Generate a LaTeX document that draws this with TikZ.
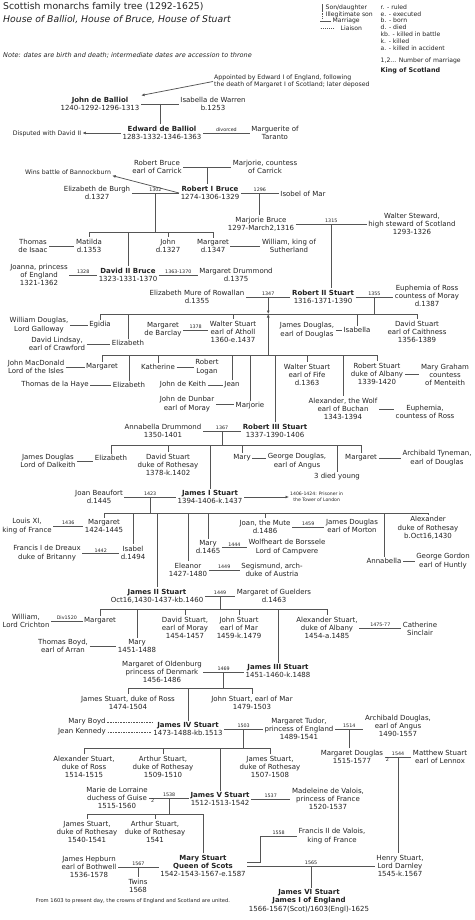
\documentclass[tikz,border=0pt]{standalone}
\usepackage{fontspec}
\setmainfont{DejaVu Sans}
\usetikzlibrary{arrows.meta,calc}
\definecolor{treeink}{HTML}{222222}
\definecolor{treeline}{HTML}{555555}
\tikzset{
  person/.style={font=\fontsize{7}{8.3}\selectfont, align=center, inner sep=1.5pt, text=treeink},
  aside/.style={font=\fontsize{6.2}{7}\selectfont, align=left, inner sep=1pt, text=treeink},
  legend/.style={font=\fontsize{6.1}{6.8}\selectfont, anchor=west, inner sep=0.5pt, text=treeink},
  tie/.style={draw=treeline, line width=0.75pt},
  liaison/.style={tie, dash pattern=on 1.6pt off 1pt},
  yr/.style={midway, above, font=\fontsize{4.8}{5}\selectfont, inner sep=0.6pt, text=treeink},
  pointer/.style={tie, -{Latex[length=3.5pt,width=3pt]}},
}
\begin{document}
\begin{tikzpicture}[x=1pt, y=-1pt]
\useasboundingbox (0,0) rectangle (474,920);

\node[anchor=west, inner sep=0, font=\fontsize{9.3}{10}\selectfont, text=treeink] (title) at (3,7) {Scottish monarchs family tree (1292-1625)};
\node[anchor=west, inner sep=0, font=\fontsize{9.3}{10}\selectfont\itshape, text=treeink] (houses) at (3,20) {House of Balliol, House of Bruce, House of Stuart};
\node[anchor=west, inner sep=0, font=\fontsize{6.5}{7}\selectfont\itshape, text=treeink] (datenote) at (3,55) {Note: dates are birth and death; intermediate dates are accession to throne};

\node[legend] (lson) at (325,8) {Son/daughter};
\node[legend] (lill) at (325,14.5) {Illegitimate son};
\node[legend] (lmar) at (332,21) {Marriage};
\node[legend] (llia) at (340,28) {Liaison};
\draw[tie, line width=0.5pt] ([xshift=-2.5pt]lson.north west) -- ([xshift=-2.5pt]lson.south west);
\draw[tie, line width=0.5pt, dash pattern=on 1pt off 0.7pt] ([xshift=-2.5pt]lill.north west) -- ([xshift=-2.5pt]lill.south west);
\draw[tie, line width=0.5pt] ([xshift=-1.5pt]lmar.west) -- ++(-11,0);
\draw[tie, line width=0.5pt, dash pattern=on 1.2pt off 0.8pt] ([xshift=-6pt]llia.west) -- ++(-14,0);
\foreach \t [count=\i] in {r. - ruled, e. - executed, b. - born, d. - died, kb. - killed in battle, k. - killed, a. - killed in accident}
  \node[legend] (key\i) at (380,0.2+6.8*\i) {\t};
\node[legend] (keynum) at (380,61) {1,2... Number of marriage};
\node[legend, font=\fontsize{6.4}{7}\selectfont\bfseries] (keyking) at (380,71) {King of Scotland};

\node[aside, anchor=west] (appointed) at (213,81.5) {Appointed by Edward I of England, following\\the death of Margaret I of Scotland; later deposed};
\node[person] (johnb) at (100,104) {\textbf{John de Balliol}\\1240-1292-1296-1313};
\node[person] (isabellaw) at (213,104) {Isabella de Warren\\b.1253};
\node[person] (edwardb) at (162,133) {\textbf{Edward de Balliol}\\1283-1332-1346-1363};
\node[aside] (disputed) at (47,134) {Disputed with David II};
\node[person] (marguerite) at (275,133) {Marguerite of\\Taranto};
\draw[pointer] (appointed.west) -- (johnb.north east);
\draw[tie] (johnb.east) -- (johnb.east -| isabellaw.west) coordinate[midway] (mjb);
\draw[tie] (mjb) -- (mjb |- edwardb.north);
\draw[tie] (edwardb.east) -- (edwardb.east -| marguerite.west) node[yr]{divorced};
\draw[pointer] (edwardb.west) -- (edwardb.west -| disputed.east);

\node[person] (rbruce) at (157,167) {Robert Bruce\\earl of Carrick};
\node[person] (marjoriec) at (265,167) {Marjorie, countess\\of Carrick};
\node[aside] (bannock) at (68,172) {Wins battle of Bannockburn};
\node[person] (robert1) at (210,193) {\textbf{Robert I Bruce}\\1274-1306-1329};
\node[person] (elizabethb) at (97,193) {Elizabeth de Burgh\\d.1327};
\node[person] (isobel) at (303,194) {Isobel of Mar};
\draw[tie] (rbruce.east) -- (rbruce.east -| marjoriec.west) coordinate[midway] (mrb);
\draw[tie] (mrb) -- (mrb |- robert1.north);
\draw[pointer] (robert1.west) -- (bannock.south east);
\draw[tie] (elizabethb.east) -- (elizabethb.east -| robert1.west) node[yr]{1302} coordinate[midway] (m1302);
\draw[tie] (robert1.east) -- (robert1.east -| isobel.west) node[yr]{1296} coordinate[midway] (m1296);

\node[person] (marjorieb) at (261,224) {Marjorie Bruce\\1297-March2,1316};
\node[person] (walters) at (412,224) {Walter Steward,\\high steward of Scotland\\1293-1326};
\draw[tie] (m1296) -- (m1296 |- marjorieb.north);
\draw[tie] (marjorieb.east) -- (marjorieb.east -| walters.west) node[yr]{1315} coordinate[midway] (m1315);

\coordinate (bar1) at (0,232);
\node[person] (thomasi) at (33,246) {Thomas\\de Isaac};
\node[person] (matilda) at (89,246) {Matilda\\d.1353};
\node[person] (johnbr) at (168,246) {John\\d.1327};
\node[person] (margaretb) at (213,246) {Margaret\\d.1347};
\node[person] (williams) at (289,246) {William, king of\\Sutherland};
\node[person] (joanna) at (39,275) {Joanna, princess\\of England\\1321-1362};
\node[person] (david2) at (128,275) {\textbf{David II Bruce}\\1323-1331-1370};
\node[person] (margaretd) at (236,275) {Margaret Drummond\\d.1375};
\draw[tie] (m1302) -- (m1302 |- bar1);
\draw[tie] (matilda.north |- bar1) -- (margaretb.north |- bar1);
\foreach \k in {matilda,johnbr,margaretb,david2} \draw[tie] (\k.north |- bar1) -- (\k.north);
\draw[tie] (thomasi.east) -- (thomasi.east -| matilda.west);
\draw[tie] (margaretb.east) -- (margaretb.east -| williams.west);
\draw[tie] (joanna.east) -- (joanna.east -| david2.west) node[yr]{1328};
\draw[tie] (david2.east) -- (david2.east -| margaretd.west) node[yr]{1363-1370};

\node[person] (robert2) at (323,297) {\textbf{Robert II Stuart}\\1316-1371-1390};
\node[person] (elizmure) at (197,297) {Elizabeth Mure of Rowallan\\d.1355};
\node[person] (euphemiar) at (427,296) {Euphemia of Ross\\countess of Moray\\d.1387};
\draw[tie] (m1315) -- (m1315 |- robert2.north);
\draw[tie] (elizmure.east) -- (elizmure.east -| robert2.west) node[yr]{1347} coordinate[midway] (m1347);
\draw[tie] (robert2.east) -- (robert2.east -| euphemiar.west) node[yr]{1355} coordinate[midway] (m1355);

\coordinate (bar2) at (0,314);
\node[person] (williamd) at (39,325) {William Douglas,\\Lord Galloway};
\node[person] (egidia) at (100,325) {Egidia};
\node[person] (davidl) at (57,344) {David Lindsay,\\earl of Crawford};
\node[person] (elizabethc) at (128,343) {Elizabeth};
\node[person] (margaretbar) at (163,330) {Margaret\\de Barclay};
\node[person] (walterat) at (233,332) {Walter Stuart\\earl of Atholl\\1360-e.1437};
\node[person] (jamesdd) at (307,330) {James Douglas,\\earl of Douglas};
\node[person] (isabellad) at (357,330) {Isabella};
\node[person] (davidc) at (417,332) {David Stuart\\earl of Caithness\\1356-1389};
\draw[tie] (m1355) -- (m1355 |- bar2);
\draw[tie] (egidia.north |- bar2) -- (davidc.north |- bar2);
\foreach \k in {egidia,elizabethc,walterat,isabellad,davidc} \draw[tie] (\k.north |- bar2) -- (\k.north);
\draw[tie] (williamd.east) -- (williamd.east -| egidia.west);
\draw[tie] (davidl.east) -- (davidl.east -| elizabethc.west);
\draw[tie] (margaretbar.east) -- (margaretbar.east -| walterat.west) node[yr]{1378};
\draw[tie] (jamesdd.east) -- (jamesdd.east -| isabellad.west);

\coordinate (bar3) at (0,355);
\node[person] (johnmac) at (36,367) {John MacDonald\\Lord of the Isles};
\node[person] (margaretm) at (102,367) {Margaret};
\node[person] (katherine) at (158,367) {Katherine};
\node[person] (robertl) at (207,367) {Robert\\Logan};
\node[person] (walterf) at (307,375) {Walter Stuart\\earl of Fife\\d.1363};
\node[person] (roberta) at (377,374) {Robert Stuart\\duke of Albany\\1339-1420};
\node[person] (marygr) at (445,375) {Mary Graham\\countess\\of Menteith};
\node[person] (thomash) at (55,385) {Thomas de la Haye};
\node[person] (elizabethh) at (129,385) {Elizabeth};
\node[person] (johnk) at (183,385) {John de Keith};
\node[person] (jean) at (232,385) {Jean};
\node[person] (johnd) at (187,404) {John de Dunbar\\earl of Moray};
\node[person] (marjoried) at (250,406) {Marjorie};
\node[person] (alexw) at (343,409) {Alexander, the Wolf\\earl of Buchan\\1343-1394};
\node[person] (euphemiac) at (425,412) {Euphemia,\\countess of Ross};
\node[person] (annabellad) at (163,431) {Annabella Drummond\\1350-1401};
\node[person] (robert3) at (275,431) {\textbf{Robert III Stuart}\\1337-1390-1406};
\draw[pointer] (m1347) -- (m1347 |- bar2);
\draw[pointer] (m1347 |- bar3) -- (m1347 |- bar2);
\draw[tie] (margaretm.north |- bar3) -- (roberta.north |- bar3);
\foreach \k in {margaretm,elizabethh,katherine,jean,marjoried,robert3,walterf,alexw,roberta} \draw[tie] (\k.north |- bar3) -- (\k.north);
\draw[tie] (johnmac.east) -- (johnmac.east -| margaretm.west);
\draw[tie] (katherine.east) -- (katherine.east -| robertl.west);
\draw[tie] (thomash.east) -- (thomash.east -| elizabethh.west);
\draw[tie] (johnk.east) -- (johnk.east -| jean.west);
\draw[tie] (johnd.east) -- (johnd.east -| marjoried.west);
\draw[tie] (roberta.east) -- (roberta.east -| marygr.west);
\draw[tie] (alexw.east) -- (alexw.east -| euphemiac.west);
\draw[tie] (annabellad.east) -- (annabellad.east -| robert3.west) node[yr]{1367} coordinate[midway] (m1367);

\coordinate (bar4) at (0,445);
\node[person] (jamesdal) at (48,461) {James Douglas\\Lord of Dalkeith};
\node[person] (elizabethd) at (111,458) {Elizabeth};
\node[person] (davidr) at (168,465) {David Stuart\\duke of Rothesay\\1378-k.1402};
\node[person] (maryan) at (242,458) {Mary};
\node[person] (georged) at (297,461) {George Douglas,\\earl of Angus};
\node[person] (diedyoung) at (337,477) {3 died young};
\node[person] (margaretar) at (361,458) {Margaret};
\node[person] (archt) at (437,458) {Archibald Tyneman,\\earl of Douglas};
\node[person] (joanb) at (99,497) {Joan Beaufort\\d.1445};
\node[person] (james1) at (210,497) {\textbf{James I Stuart}\\1394-1406-k.1437};
\node[aside, align=center, anchor=west, font=\fontsize{4.6}{5.6}\selectfont] (prisoner) at (289,497) {1406-1424: Prisoner in\\the Tower of London};
\draw[tie] (m1367) -- (m1367 |- bar4);
\draw[tie] (elizabethd.north |- bar4) -- (margaretar.north |- bar4);
\foreach \k in {elizabethd,davidr,james1,maryan,diedyoung,margaretar} \draw[tie] (\k.north |- bar4) -- (\k.north);
\draw[tie] (jamesdal.east) -- (jamesdal.east -| elizabethd.west);
\draw[tie] (maryan.east) -- (maryan.east -| georged.west);
\draw[tie] (margaretar.east) -- (margaretar.east -| archt.west);
\draw[tie] (joanb.east) -- (joanb.east -| james1.west) node[yr]{1423} coordinate[midway] (m1423);
\draw[pointer] (james1.east) -- (prisoner.west);

\coordinate (bar5) at (0,513);
\node[person] (louis) at (27,526) {Louis XI,\\king of France};
\node[person] (margaretf) at (104,526) {Margaret\\1424-1445};
\node[person] (francisd) at (47,553) {Francis I de Dreaux\\duke of Britanny};
\node[person] (isabelb) at (133,553) {Isabel\\d.1494};
\node[person] (marym) at (208,547) {Mary\\d.1465};
\node[person] (wolf) at (287,547) {Wolfheart de Borssele\\Lord of Campvere};
\node[person] (eleanor) at (188,570) {Eleanor\\1427-1480};
\node[person] (segis) at (272,570) {Segismund, arch-\\duke of Austria};
\node[person] (joanm) at (265,527) {Joan, the Mute\\d.1486};
\node[person] (jamesm) at (352,526) {James Douglas\\earl of Morton};
\node[person] (alexr) at (428,528) {Alexander\\duke of Rothesay\\b.Oct16,1430};
\node[person] (annabellag) at (384,561) {Annabella};
\node[person] (georgeg) at (443,561) {George Gordon\\earl of Huntly};
\node[person] (james2) at (157,596) {\textbf{James II Stuart}\\Oct16,1430-1437-kb.1460};
\node[person] (margaretg) at (274,596) {Margaret of Guelders\\d.1463};
\draw[tie] (m1423) -- (m1423 |- bar5);
\draw[tie] (margaretf.north |- bar5) -- (alexr.north |- bar5);
\foreach \k in {margaretf,isabelb,james2,eleanor,marym,joanm,annabellag,alexr} \draw[tie] (\k.north |- bar5) -- (\k.north);
\draw[tie] (louis.east) -- (louis.east -| margaretf.west) node[yr]{1436};
\draw[tie] (francisd.east) -- (francisd.east -| isabelb.west) node[yr]{1442};
\draw[tie] (marym.east) -- (marym.east -| wolf.west) node[yr]{1444};
\draw[tie] (eleanor.east) -- (eleanor.east -| segis.west) node[yr]{1449};
\draw[tie] (joanm.east) -- (joanm.east -| jamesm.west) node[yr]{1459};
\draw[tie] (annabellag.east) -- (annabellag.east -| georgeg.west);
\draw[tie] (james2.east) -- (james2.east -| margaretg.west) node[yr]{1449} coordinate[midway] (m1449);

\coordinate (bar6) at (0,609);
\node[person] (williamc) at (26,621) {William,\\Lord Crichton};
\node[person] (margaretc) at (100,621) {Margaret};
\node[person] (thomasb) at (63,646) {Thomas Boyd,\\earl of Arran};
\node[person] (marybo) at (137,646) {Mary\\1451-1488};
\node[person] (davidm) at (185,628) {David Stuart,\\earl of Moray\\1454-1457};
\node[person] (johnm) at (239,628) {John Stuart\\earl of Mar\\1459-k.1479};
\node[person] (alexa) at (327,628) {Alexander Stuart,\\duke of Albany\\1454-a.1485};
\node[person] (catherine) at (420,629) {Catherine\\Sinclair};
\node[person] (margareto) at (162,672) {Margaret of Oldenburg\\princess of Denmark\\1456-1486};
\node[person] (james3) at (278,671) {\textbf{James III Stuart}\\1451-1460-k.1488};
\draw[tie] (m1449) -- (m1449 |- bar6);
\draw[tie] (margaretc.north |- bar6) -- (alexa.north |- bar6);
\foreach \k in {margaretc,marybo,davidm,johnm,james3,alexa} \draw[tie] (\k.north |- bar6) -- (\k.north);
\draw[tie] (williamc.east) -- (williamc.east -| margaretc.west) node[yr]{Div1520};
\draw[tie] (thomasb.east) -- (thomasb.east -| marybo.west);
\draw[tie] (alexa.east) -- (alexa.east -| catherine.west) node[yr]{1475-77};
\draw[tie] (margareto.east) -- (margareto.east -| james3.west) node[yr]{1469} coordinate[midway] (m1469);

\coordinate (bar7) at (0,688);
\node[person] (jamesr) at (128,703) {James Stuart, duke of Ross\\1474-1504};
\node[person] (johnmar) at (252,703) {John Stuart, earl of Mar\\1479-1503};
\node[person] (james4) at (188,729) {\textbf{James IV Stuart}\\1473-1488-kb.1513};
\node[person] (maryb) at (87,722) {Mary Boyd};
\node[person] (jeank) at (82,732) {Jean Kennedy};
\node[person] (margarettu) at (299,729) {Margaret Tudor,\\princess of England\\1489-1541};
\node[person] (archd) at (398,726) {Archibald Douglas,\\earl of Angus\\1490-1557};
\node[person] (margaretdo) at (352,757) {Margaret Douglas\\1515-1577};
\node[person] (matthew) at (440,757) {Matthew Stuart\\earl of Lennox};
\draw[tie] (m1469) -- (m1469 |- bar7);
\draw[tie] (jamesr.north |- bar7) -- (johnmar.north |- bar7);
\foreach \k in {jamesr,james4,johnmar} \draw[tie] (\k.north |- bar7) -- (\k.north);
\draw[liaison] (maryb.east) -- (maryb.east -| james4.west);
\draw[liaison] (jeank.east) -- (jeank.east -| james4.west);
\draw[tie] (james4.east) -- (james4.east -| margarettu.west) node[yr]{1503} coordinate[midway] (m1503);
\draw[tie] (margarettu.east) -- (margarettu.east -| archd.west) node[yr]{1514} coordinate[midway] (m1514);
\draw[tie] (m1514) -- (m1514 |- margaretdo.north);
\draw[tie] (margaretdo.east) -- (margaretdo.east -| matthew.west) node[yr]{1544} node[yr, pos=.1, below]{2} coordinate[midway] (m1544);

\coordinate (bar8) at (0,748);
\node[person] (alexs) at (84,767) {Alexander Stuart,\\duke of Ross\\1514-1515};
\node[person] (arthurs) at (163,767) {Arthur Stuart,\\duke of Rothesay\\1509-1510};
\node[person] (jamess) at (270,767) {James Stuart,\\duke of Rothesay\\1507-1508};
\node[person] (marie) at (117,798) {Marie de Lorraine\\duchess of Guise\\1515-1560};
\node[person] (james5) at (220,799) {\textbf{James V Stuart}\\1512-1513-1542};
\node[person] (madeleine) at (328,799) {Madeleine de Valois,\\princess of France\\1520-1537};
\draw[tie] (m1503) -- (m1503 |- bar8);
\draw[tie] (alexs.north |- bar8) -- (jamess.north |- bar8);
\foreach \k in {alexs,arthurs,james5,jamess} \draw[tie] (\k.north |- bar8) -- (\k.north);
\draw[tie] (marie.east) -- (marie.east -| james5.west) node[yr]{1538} node[yr, pos=.08, below]{2} coordinate[midway] (m1538);
\draw[tie] (james5.east) -- (james5.east -| madeleine.west) node[yr]{1537};

\coordinate (bar9) at (0,814);
\node[person] (jamesro) at (87,832) {James Stuart,\\duke of Rothesay\\1540-1541};
\node[person] (arthurro) at (155,832) {Arthur Stuart,\\duke of Rothesay\\1541};
\node[person] (francis2) at (332,836) {Francis II de Valois,\\king of France};
\node[person] (marys) at (203,866) {\textbf{Mary Stuart}\\\textbf{Queen of Scots}\\1542-1543-1567-e.1587};
\node[person] (jamesh) at (89,867) {James Hepburn\\earl of Bothwell\\1536-1578};
\node[person] (henry) at (400,866) {Henry Stuart,\\Lord Darnley\\1545-k.1567};
\node[person] (twins) at (138,886) {Twins\\1568};
\node[aside, font=\fontsize{5.2}{6}\selectfont] (united) at (133,901) {From 1603 to present day, the crowns of England and Scotland are united.};
\node[person] (james6) at (309,901) {\textbf{James VI Stuart}\\\textbf{James I of England}\\1566-1567(Scot)/1603(Engl)-1625};
\draw[tie] (m1538) -- (m1538 |- bar9);
\draw[tie] (jamesro.north |- bar9) -- (marys.north |- bar9);
\foreach \k in {jamesro,arthurro,marys} \draw[tie] (\k.north |- bar9) -- (\k.north);
\draw[tie] (m1544) -- (m1544 |- henry.north);
\draw[tie] ([yshift=4pt]marys.east) -- ++(13,0) |- (francis2.west) node[yr, pos=.75]{1558};
\draw[tie] (jamesh.east) -- (jamesh.east -| marys.west) node[yr]{1567} coordinate[midway] (m1567);
\draw[tie] (m1567) -- (m1567 |- twins.north);
\draw[tie] (marys.east) -- (marys.east -| henry.west) node[yr]{1565} coordinate[midway] (m1565);
\draw[tie] (m1565) -- (m1565 |- james6.north);
\end{tikzpicture}
\end{document}
